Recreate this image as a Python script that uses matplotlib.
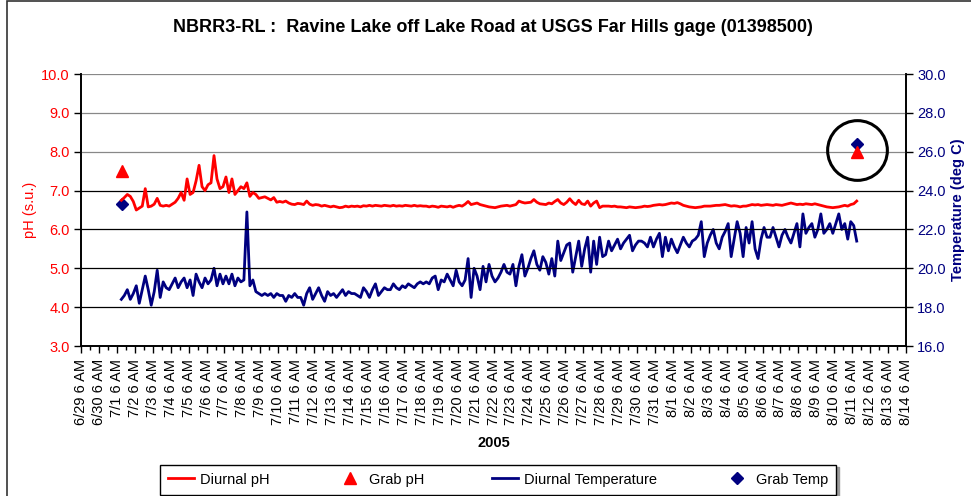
import datetime as dt
import matplotlib
matplotlib.use("Agg")
import matplotlib.pyplot as plt
import matplotlib.dates as mdates
from matplotlib.lines import Line2D
from matplotlib.patches import Rectangle
from matplotlib.ticker import FuncFormatter

plt.rcParams["font.family"] = ["Liberation Sans", "DejaVu Sans"]

TITLE = "NBRR3-RL :  Ravine Lake off Lake Road at USGS Far Hills gage (01398500)"

# Continuous sonde record: 4-hour readings starting 7/1/2005 12:00 (one row per day)
series_start = dt.datetime(2005, 7, 1, 12, 0)
step_hours = 4

diurnal_ph = [
    6.75, 6.82, 6.90, 6.85, 6.72, 6.50,
    6.55, 6.60, 7.05, 6.58, 6.60, 6.65,
    6.80, 6.62, 6.60, 6.62, 6.60, 6.65,
    6.70, 6.80, 6.95, 6.75, 7.30, 6.90,
    6.95, 7.25, 7.65, 7.10, 7.00, 7.15,
    7.20, 7.90, 7.30, 7.05, 7.10, 7.35,
    6.95, 7.30, 6.90, 7.00, 7.10, 7.05,
    7.20, 6.85, 6.95, 6.90, 6.80, 6.82,
    6.84, 6.80, 6.76, 6.82, 6.70, 6.72,
    6.70, 6.73, 6.68, 6.65, 6.64, 6.67,
    6.66, 6.64, 6.73, 6.65, 6.62, 6.64,
    6.63, 6.60, 6.62, 6.60, 6.58, 6.60,
    6.58, 6.56, 6.57, 6.60, 6.58, 6.60,
    6.59, 6.60, 6.58, 6.61, 6.60, 6.62,
    6.60, 6.62, 6.61, 6.60, 6.62, 6.61,
    6.60, 6.62, 6.60, 6.61, 6.60, 6.62,
    6.61, 6.60, 6.62, 6.60, 6.61, 6.60,
    6.60, 6.58, 6.60, 6.59, 6.57, 6.60,
    6.59, 6.58, 6.60, 6.57, 6.60, 6.62,
    6.60, 6.65, 6.72, 6.64, 6.66, 6.68,
    6.64, 6.62, 6.60, 6.58, 6.57, 6.56,
    6.58, 6.60, 6.61, 6.62, 6.60, 6.62,
    6.64, 6.73, 6.70, 6.68, 6.69, 6.70,
    6.77, 6.70, 6.66, 6.65, 6.64, 6.68,
    6.66, 6.72, 6.77, 6.68, 6.64, 6.70,
    6.79, 6.70, 6.64, 6.75, 6.66, 6.64,
    6.73, 6.60, 6.68, 6.73, 6.56, 6.60,
    6.60, 6.60, 6.59, 6.60, 6.58, 6.58,
    6.57, 6.56, 6.58, 6.57, 6.56, 6.57,
    6.58, 6.60, 6.59, 6.60, 6.62, 6.63,
    6.64, 6.63, 6.64, 6.66, 6.68, 6.67,
    6.69, 6.66, 6.62, 6.60, 6.58, 6.57,
    6.56, 6.57, 6.58, 6.60, 6.60, 6.60,
    6.61, 6.62, 6.62, 6.63, 6.64, 6.62,
    6.60, 6.61, 6.60, 6.58, 6.60, 6.60,
    6.62, 6.64, 6.63, 6.64, 6.62, 6.63,
    6.64, 6.63, 6.62, 6.64, 6.63, 6.62,
    6.64, 6.66, 6.68, 6.66, 6.64, 6.65,
    6.64, 6.66, 6.65, 6.64, 6.66, 6.64,
    6.62, 6.60, 6.58, 6.57, 6.56, 6.57,
    6.58, 6.60, 6.62, 6.60, 6.64, 6.66,
    6.73,
]

diurnal_temp = [
    18.4, 18.6, 18.9, 18.4, 18.7, 19.1,
    18.2, 18.9, 19.6, 18.9, 18.1, 18.8,
    19.9, 18.5, 19.3, 19.0, 18.9, 19.2,
    19.5, 19.0, 19.3, 19.5, 19.0, 19.4,
    18.6, 19.7, 19.3, 19.0, 19.5, 19.2,
    19.4, 20.0, 19.1, 19.7, 19.2, 19.6,
    19.2, 19.7, 19.1, 19.5, 19.3, 19.4,
    22.9, 19.1, 19.4, 18.8, 18.7, 18.6,
    18.7, 18.6, 18.7, 18.5, 18.7, 18.6,
    18.6, 18.3, 18.6, 18.5, 18.7, 18.5,
    18.5, 18.1, 18.7, 19.0, 18.4, 18.7,
    19.0, 18.6, 18.3, 18.8, 18.6, 18.7,
    18.5, 18.7, 18.9, 18.6, 18.8, 18.7,
    18.7, 18.6, 18.5, 19.0, 18.8, 18.5,
    18.9, 19.2, 18.6, 18.8, 19.0, 18.9,
    18.9, 19.2, 19.0, 18.9, 19.1, 19.0,
    19.2, 19.1, 19.0, 19.2, 19.3, 19.2,
    19.3, 19.2, 19.5, 19.6, 18.9, 19.4,
    19.3, 19.7, 19.4, 19.1, 19.9, 19.3,
    19.1, 19.4, 20.5, 18.5, 20.0, 19.6,
    18.9, 20.1, 19.3, 20.2, 19.6, 19.3,
    19.5, 19.8, 20.2, 19.8, 19.7, 20.2,
    19.1, 20.1, 20.7, 19.6, 20.0, 20.5,
    20.9, 20.2, 19.9, 20.6, 20.3, 19.7,
    20.5, 19.6, 21.4, 20.4, 20.8, 21.2,
    21.3, 19.8, 20.6, 21.4, 20.1, 21.0,
    21.6, 19.8, 21.4, 20.2, 21.6, 20.6,
    20.7, 21.4, 20.9, 21.2, 21.5, 21.0,
    21.3, 21.5, 21.7, 20.9, 21.2, 21.4,
    21.4, 21.3, 21.1, 21.6, 21.1, 21.5,
    21.8, 20.6, 21.6, 20.9, 21.5, 21.1,
    20.8, 21.2, 21.6, 21.3, 21.1, 21.4,
    21.5, 21.7, 22.4, 20.6, 21.3, 21.7,
    22.0, 21.3, 21.0, 21.6, 21.9, 22.3,
    20.6, 21.5, 22.4, 21.8, 20.6, 22.1,
    21.3, 22.4, 21.0, 20.5, 21.5, 22.1,
    21.6, 21.6, 22.1, 21.6, 21.1, 21.7,
    22.0, 21.6, 21.3, 21.8, 22.3, 21.1,
    22.8, 21.8, 22.1, 22.3, 21.6, 22.0,
    22.8, 21.8, 22.0, 22.3, 21.8, 22.3,
    22.8, 22.0, 22.3, 21.5, 22.4, 22.2,
    21.4,
]

# Field grab samples
grab_times = [dt.datetime(2005, 7, 1, 13, 0), dt.datetime(2005, 8, 11, 13, 0)]
grab_ph = [7.5, 8.0]
grab_temp = [23.3, 26.4]

x_start = dt.datetime(2005, 6, 29, 6, 0)
x_end = dt.datetime(2005, 8, 14, 6, 0)
ph_ticks = [3.0, 4.0, 5.0, 6.0, 7.0, 8.0, 9.0, 10.0]
temp_ticks = [16.0, 18.0, 20.0, 22.0, 24.0, 26.0, 28.0, 30.0]

RED = "#FF0000"
NAVY = "#000080"

times = [series_start + dt.timedelta(hours=step_hours * i) for i in range(len(diurnal_ph))]

fig = plt.figure(figsize=(9.71, 4.96), dpi=100)
fig.patch.set_facecolor("white")
fig.patches.append(Rectangle((6.5 / 971, -0.05), 1.2, 1.05 - 1.0 / 496,
                             transform=fig.transFigure, fill=False,
                             edgecolor="#333333", linewidth=1.2, zorder=0))

ax = fig.add_axes([0.0834, 0.3024, 0.8497, 0.5484])
ax2 = ax.twinx()
ax.set_zorder(ax2.get_zorder() + 1)
ax.patch.set_visible(False)

# horizontal gridlines (lighter towards the top)
for v in ph_ticks[1:]:
    ax.axhline(v, color="#888888" if v >= 8 else "black", linewidth=0.9, zorder=0)

ax2.plot(times, diurnal_temp, color=NAVY, linewidth=2.0, solid_joinstyle="round")
ax2.plot(grab_times, grab_temp, linestyle="none", marker="D", markersize=6.5,
         color=NAVY, zorder=5)
ax.plot(times, diurnal_ph, color=RED, linewidth=2.0, solid_joinstyle="round")
ax.plot(grab_times, grab_ph, linestyle="none", marker="^", markersize=8.5,
        color=RED, zorder=4)
# highlight ring around the latest grab sample
ax.plot(grab_times[-1:], [grab_ph[-1] + 0.05], linestyle="none", marker="o",
        markersize=43, markerfacecolor="none", markeredgecolor="black",
        markeredgewidth=2.2, zorder=6)

ax.set_xlim(x_start, x_end)
ax.set_ylim(3.0, 10.0)
ax2.set_ylim(16.0, 30.0)
ax.set_yticks(ph_ticks)
ax2.set_yticks(temp_ticks)
ax.yaxis.set_major_formatter(FuncFormatter(lambda v, p: f"{v:.1f}"))
ax2.yaxis.set_major_formatter(FuncFormatter(lambda v, p: f"{v:.1f}"))

ax.xaxis.set_major_locator(mdates.HourLocator(byhour=[6]))
ax.xaxis.set_minor_locator(mdates.HourLocator(byhour=[18]))


def day_label(v, pos):
    d = mdates.num2date(v)
    hour = d.hour % 12 or 12
    return f"{d.month}/{d.day} {hour} {'AM' if d.hour < 12 else 'PM'}"


ax.xaxis.set_major_formatter(FuncFormatter(day_label))
ax.tick_params(axis="x", which="major", labelrotation=90, labelsize=10.5,
               length=5, width=1, direction="out", pad=4)
ax.tick_params(axis="x", which="minor", length=3, width=1, direction="out")
ax.tick_params(axis="y", labelsize=10.5, labelcolor=RED, length=5, width=1,
               direction="out", pad=3)
ax2.tick_params(axis="y", labelsize=10.5, labelcolor=NAVY, length=5, width=1,
                direction="out", pad=3)

for a in (ax, ax2):
    a.spines["top"].set_visible(False)
    for s in ("left", "right", "bottom"):
        a.spines[s].set_linewidth(1.2)
        a.spines[s].set_color("black")

ax.set_ylabel("pH (s.u.)", color=RED, fontsize=10.5, labelpad=3)
ax2.set_ylabel("Temperature (deg C)", color=NAVY, fontsize=10.5,
               fontweight="bold", labelpad=4)
ax.set_xlabel("2005", fontsize=10.5, fontweight="bold", labelpad=8)

fig.text(0.508, 0.945, TITLE, ha="center", va="center", fontsize=13,
         fontweight="bold")

handles = [
    Line2D([], [], color=RED, linewidth=2.0),
    Line2D([], [], color=RED, marker="^", linestyle="none", markersize=8.5),
    Line2D([], [], color=NAVY, linewidth=2.0),
    Line2D([], [], color=NAVY, marker="D", linestyle="none", markersize=6.5),
]
labels = ["Diurnal pH", "Grab pH", "Diurnal Temperature", "Grab Temp"]
leg = fig.legend(handles, labels, loc="lower center", ncol=4,
                 bbox_to_anchor=(0.513, -0.006), fontsize=10.5, frameon=True,
                 fancybox=False,
                 shadow={"ox": 2, "oy": -2, "color": "#999999", "alpha": 1.0},
                 edgecolor="black", handlelength=1.8, columnspacing=4.6,
                 borderpad=0.55, handletextpad=0.4, borderaxespad=0.3)
leg.get_frame().set_linewidth(1.0)

fig.savefig("out.png", dpi=100, facecolor="white")
